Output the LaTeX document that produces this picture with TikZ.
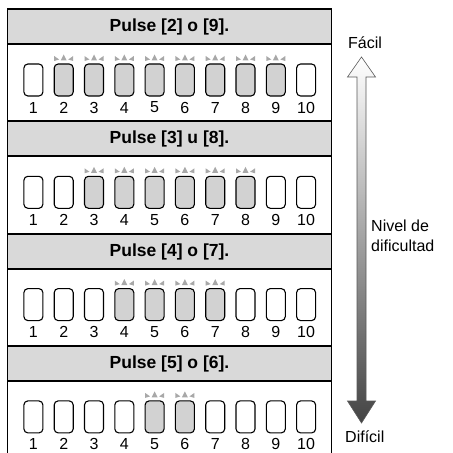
\documentclass[tikz,border=0pt]{standalone}
\usepackage{fontspec}
\setmainfont{Liberation Sans}
\begin{document}
\begin{tikzpicture}[x=1bp,y=-1bp,
  frameline/.style={line width=1.8bp,black},
  header/.style={fill=hdrgray,draw=none},
  keybox/.style={draw=black,line width=1.1bp,rounded corners=4bp,minimum width=19bp,minimum height=32bp,inner sep=0pt,fill=white},
  litkey/.style={keybox,fill=keygray},
  numlbl/.style={font=\fontsize{16bp}{16bp}\selectfont,inner sep=0pt},
  hdrtext/.style={font=\bfseries\fontsize{17.5bp}{17.5bp}\selectfont,inner sep=0pt},
  sidetext/.style={font=\fontsize{16bp}{20bp}\selectfont,inner sep=0pt,align=left},
  glow/.style={fill=glowgray,draw=none}
]
\definecolor{hdrgray}{HTML}{D9D9D9}
\definecolor{keygray}{HTML}{D2D2D2}
\definecolor{glowgray}{HTML}{A8A8A8}
\definecolor{arrowdark}{HTML}{444444}
\useasboundingbox (0,0) rectangle (453,453);
\def\S{112.3}
% panels
\foreach \p/\lo/\hi/\txt in {0/2/9/{Pulse [2] o [9].},1/3/8/{Pulse [3] u [8].},2/4/7/{Pulse [4] o [7].},3/5/6/{Pulse [5] o [6].}}{
  \pgfmathsetmacro{\yo}{\p*\S}
  \begin{scope}[yshift={-\yo bp}]
    \fill[header] (7.5,9) rectangle (331.5,44);
    \draw[frameline] (7.5,9) -- (331.5,9);
    \draw[frameline] (7.5,44) -- (331.5,44);
    \node[hdrtext] (h\p) at (169.5,27) {\txt};
    \foreach \i in {1,...,10}{
      \pgfmathsetmacro{\kx}{33.4+30.3*(\i-1)}
      \pgfmathtruncatemacro{\lit}{(\i>=\lo)&&(\i<=\hi)}
      \ifnum\lit=1
        \node[litkey] (k\p-\i) at (\kx,80) {};
        \fill[glow] (\kx-3,60.5) -- (\kx+3,60.5) -- (\kx,54.5) -- cycle;
        \fill[glow] (\kx-9.5,56) -- (\kx-9.5,61) -- (\kx-4.5,59.5) -- cycle;
        \fill[glow] (\kx+9.5,56) -- (\kx+9.5,61) -- (\kx+4.5,59.5) -- cycle;
      \else
        \node[keybox] (k\p-\i) at (\kx,80) {};
      \fi
      \node[numlbl] (n\p-\i) at (\kx,107.5) {\i};
    }
  \end{scope}
}
% outer vertical borders
\draw[frameline] (7.5,8.1) -- (7.5,453);
\draw[frameline] (331.5,8.1) -- (331.5,453);
% difficulty arrow
\coordinate (atop) at (361.5,57);
\coordinate (abot) at (361.5,423);
\shade[top color=white,bottom color=arrowdark]
  (atop) -- (375.5,77) -- (366,77) -- (366,401) -- (375.5,401) -- (abot)
  -- (347.5,401) -- (357,401) -- (357,77) -- (347.5,77) -- cycle;
\draw[line width=0.6bp,draw=gray!70!black]
  (atop) -- (375.5,77) -- (366,77) -- (366,401) -- (375.5,401) -- (abot)
  -- (347.5,401) -- (357,401) -- (357,77) -- (347.5,77) -- cycle;
\node[sidetext,anchor=west] (facil) at (348,43) {Fácil};
\node[sidetext,anchor=west] (nivel) at (371,236) {Nivel de\\dificultad};
\node[sidetext,anchor=west] (dificil) at (345,437) {Difícil};
\end{tikzpicture}
\end{document}
